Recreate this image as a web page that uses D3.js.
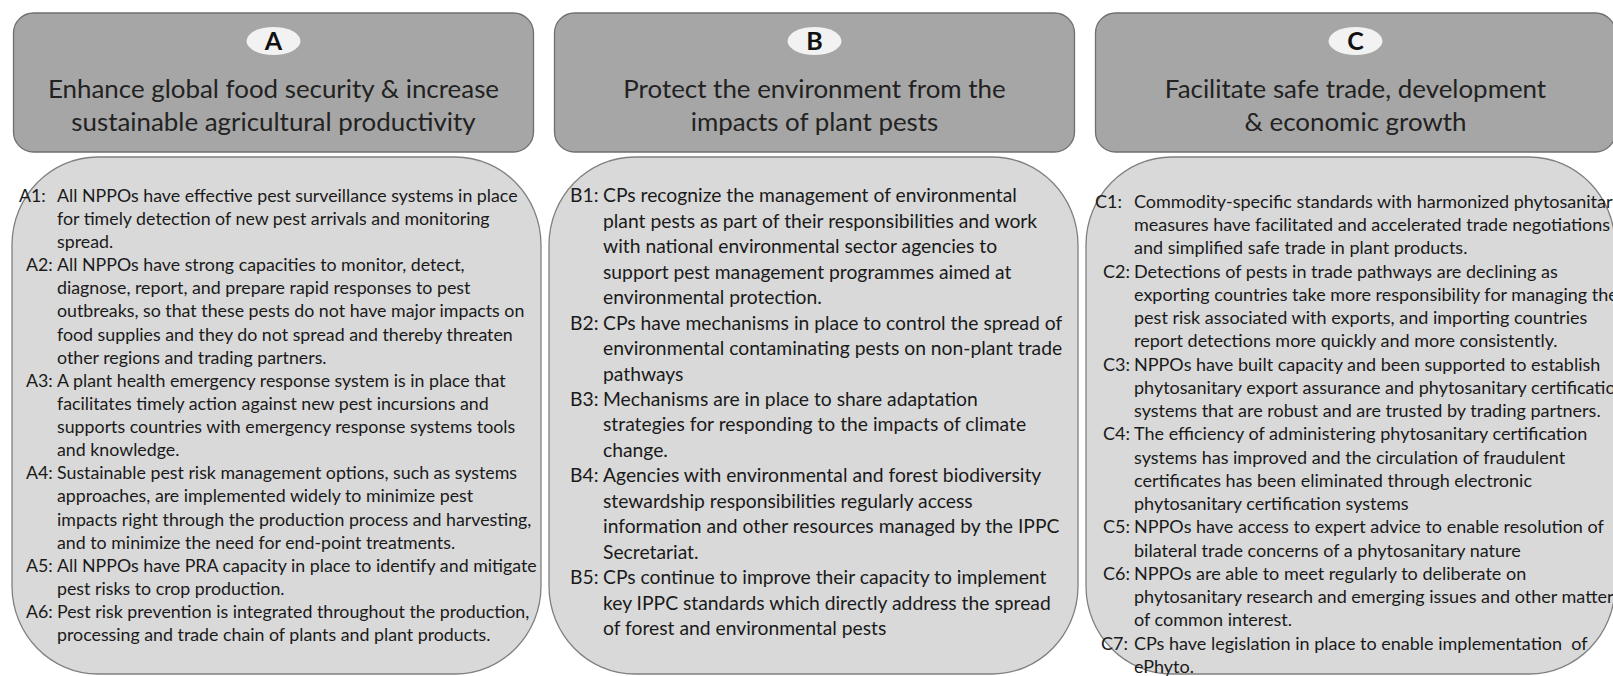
<!DOCTYPE html>
<html>
<head>
<meta charset="utf-8">
<script src="https://cdn.jsdelivr.net/npm/d3@7"></script>
<style>
  html, body { margin: 0; padding: 0; background: #fff; overflow: hidden; }
  svg { display: block; }
</style>
</head>
<body>
<svg id="chart" width="1613" height="676"></svg>
<script>

//============================================================
// Data
//------------------------------------------------------------

var panelKeys = ['A', 'B', 'C'];

var panelTitles = [
  ['Enhance global food security & increase', 'sustainable agricultural productivity'],
  ['Protect the environment from the', 'impacts of plant pests'],
  ['Facilitate safe trade, development', '& economic growth']
];

var outcomesA = [
  {code: 'A1', lines: ['All NPPOs have effective pest surveillance systems in place',
                       'for timely detection of new pest arrivals and monitoring',
                       'spread.']},
  {code: 'A2', lines: ['All NPPOs have strong capacities to monitor, detect,',
                       'diagnose, report, and prepare rapid responses to pest',
                       'outbreaks, so that these pests do not have major impacts on',
                       'food supplies and they do not spread and thereby threaten',
                       'other regions and trading partners.']},
  {code: 'A3', lines: ['A plant health emergency response system is in place that',
                       'facilitates timely action against new pest incursions and',
                       'supports countries with emergency response systems tools',
                       'and knowledge.']},
  {code: 'A4', lines: ['Sustainable pest risk management options, such as systems',
                       'approaches, are implemented widely to minimize pest',
                       'impacts right through the production process and harvesting,',
                       'and to minimize the need for end-point treatments.']},
  {code: 'A5', lines: ['All NPPOs have PRA capacity in place to identify and mitigate',
                       'pest risks to crop production.']},
  {code: 'A6', lines: ['Pest risk prevention is integrated throughout the production,',
                       'processing and trade chain of plants and plant products.']}
];

var outcomesB = [
  {code: 'B1', lines: ['CPs recognize the management of environmental',
                       'plant pests as part of their responsibilities and work',
                       'with national environmental sector agencies to',
                       'support pest management programmes aimed at',
                       'environmental protection.']},
  {code: 'B2', lines: ['CPs have mechanisms in place to control the spread of',
                       'environmental contaminating pests on non-plant trade',
                       'pathways']},
  {code: 'B3', lines: ['Mechanisms are in place to share adaptation',
                       'strategies for responding to the impacts of climate',
                       'change.']},
  {code: 'B4', lines: ['Agencies with environmental and forest biodiversity',
                       'stewardship responsibilities regularly access',
                       'information and other resources managed by the IPPC',
                       'Secretariat.']},
  {code: 'B5', lines: ['CPs continue to improve their capacity to implement',
                       'key IPPC standards which directly address the spread',
                       'of forest and environmental pests']}
];

var outcomesC = [
  {code: 'C1', lines: ['Commodity-specific standards with harmonized phytosanitary',
                       'measures have facilitated and accelerated trade negotiations',
                       'and simplified safe trade in plant products.']},
  {code: 'C2', lines: ['Detections of pests in trade pathways are declining as',
                       'exporting countries take more responsibility for managing the',
                       'pest risk associated with exports, and importing countries',
                       'report detections more quickly and more consistently.']},
  {code: 'C3', lines: ['NPPOs have built capacity and been supported to establish',
                       'phytosanitary export assurance and phytosanitary certification',
                       'systems that are robust and are trusted by trading partners.']},
  {code: 'C4', lines: ['The efficiency of administering phytosanitary certification',
                       'systems has improved and the circulation of fraudulent',
                       'certificates has been eliminated through electronic',
                       'phytosanitary certification systems']},
  {code: 'C5', lines: ['NPPOs have access to expert advice to enable resolution of',
                       'bilateral trade concerns of a phytosanitary nature']},
  {code: 'C6', lines: ['NPPOs are able to meet regularly to deliberate on',
                       'phytosanitary research and emerging issues and other matters',
                       'of common interest.']},
  {code: 'C7', lines: ['CPs have legislation in place to enable implementation  of',
                       'ePhyto.']}
];

var panelOutcomes = [outcomesA, outcomesB, outcomesC];

//============================================================
// Layout
//------------------------------------------------------------

var width = 1613
  , height = 676
  , font = 'Lato, "Open Sans", sans-serif'
  , header = {top: 13, bottom: 152, rx: 20}
  , body = {top: 157, bottom: 674, rx: 86, ry: 88}
  , titleRows = [88.5, 122]
  , badgeY = 41
  , textInset = {A: 14, B: 21, C: 17}
  , labelShift = {A1: -7, C1: -8, C7: -2}
  , hangIndent = {A: 31, B: 33, C: 31}
  , fontSize = {A: 17.8, B: 19.3, C: 18}
  , firstLine = {A: 195.5, B: 195.5, C: 201.6}
  , lastLine = {A: 635, B: 628.5, C: 666.6}
  ;

var svg = d3.select('#chart');

var xHead = d3.scaleBand()
    .domain(panelKeys)
    .range([13.5, 13.5 + 541 * 3 - 21])
    .paddingInner(21 / 541)
    .paddingOuter(0);

var xBody = d3.scaleBand()
    .domain(panelKeys)
    .range([12, 12 + 537 * 3 - 8])
    .paddingInner(8 / 537)
    .paddingOuter(0);

// rounded rect with separate horizontal / vertical corner radii
function roundRect(x0, y0, w, h, rx, ry) {
  var p = d3.path(), x1 = x0 + w, y1 = y0 + h, k = 0.5523;
  p.moveTo(x0 + rx, y0);
  p.lineTo(x1 - rx, y0);
  p.bezierCurveTo(x1 - rx + rx * k, y0, x1, y0 + ry - ry * k, x1, y0 + ry);
  p.lineTo(x1, y1 - ry);
  p.bezierCurveTo(x1, y1 - ry + ry * k, x1 - rx + rx * k, y1, x1 - rx, y1);
  p.lineTo(x0 + rx, y1);
  p.bezierCurveTo(x0 + rx - rx * k, y1, x0, y1 - ry + ry * k, x0, y1 - ry);
  p.lineTo(x0, y0 + ry);
  p.bezierCurveTo(x0, y0 + ry - ry * k, x0 + rx - rx * k, y0, x0 + rx, y0);
  p.closePath();
  return p.toString();
}

var panels = svg.selectAll('g.panel')
    .data(panelKeys.map(function(k, i) {
      return {key: k, title: panelTitles[i], outcomes: panelOutcomes[i]};
    }))
  .enter().append('g')
    .attr('class', 'panel');

//------------------------------------------------------------
// Header boxes

panels.append('rect')
    .attr('x', function(d) { return xHead(d.key) })
    .attr('y', header.top)
    .attr('width', xHead.bandwidth())
    .attr('height', header.bottom - header.top)
    .attr('rx', header.rx)
    .style('fill', '#a6a6a6')
    .style('stroke', '#6f6f6f')
    .style('stroke-width', 1.3);

panels.append('ellipse')
    .attr('cx', function(d) { return xHead(d.key) + xHead.bandwidth() / 2 })
    .attr('cy', badgeY)
    .attr('rx', 27)
    .attr('ry', 14)
    .style('fill', '#f2f2f2');

panels.append('text')
    .attr('x', function(d) { return xHead(d.key) + xHead.bandwidth() / 2 })
    .attr('y', badgeY)
    .attr('dy', '0.36em')
    .attr('text-anchor', 'middle')
    .style('font-family', font)
    .style('font-weight', 700)
    .style('font-size', '25px')
    .style('fill', '#111')
    .text(function(d) { return d.key });

panels.each(function(d) {
  d3.select(this).selectAll('text.title')
      .data(d.title)
    .enter().append('text')
      .attr('class', 'title')
      .attr('x', xHead(d.key) + xHead.bandwidth() / 2)
      .attr('y', function(t, i) { return titleRows[i] })
      .attr('dy', '0.36em')
      .attr('text-anchor', 'middle')
      .style('font-family', font)
      .style('font-size', '25.9px')
      .style('fill', '#222')
      .text(function(t) { return t });
});

//------------------------------------------------------------
// Body boxes

panels.append('path')
    .attr('d', function(d) {
      return roundRect(xBody(d.key), body.top, xBody.bandwidth(), body.bottom - body.top, body.rx, body.ry);
    })
    .style('fill', '#d9d9d9')
    .style('stroke', '#808080')
    .style('stroke-width', 1.3);

panels.each(function(d) {
  var rows = [];
  d.outcomes.forEach(function(o) {
    o.lines.forEach(function(line, j) {
      rows.push({code: j === 0 ? o.code : null, text: line});
    });
  });

  var y = d3.scaleLinear()
      .domain([0, rows.length - 1])
      .range([firstLine[d.key], lastLine[d.key]]);

  var x0 = xBody(d.key) + textInset[d.key]
    , size = fontSize[d.key] + 'px';

  var g = d3.select(this).append('g').attr('class', 'outcomes');

  g.selectAll('text.code')
      .data(rows.map(function(r, i) { return {r: r, i: i} }).filter(function(e) { return e.r.code }))
    .enter().append('text')
      .attr('class', 'code')
      .attr('x', function(e) { return x0 + (labelShift[e.r.code] || 0) })
      .attr('y', function(e) { return y(e.i) })
      .attr('dy', '0.35em')
      .style('font-family', font)
      .style('font-size', size)
      .style('fill', '#1a1a1a')
      .text(function(e) { return e.r.code + ':' });

  g.selectAll('text.line')
      .data(rows)
    .enter().append('text')
      .attr('class', 'line')
      .attr('x', x0 + hangIndent[d.key])
      .attr('y', function(r, i) { return y(i) })
      .attr('dy', '0.35em')
      .style('font-family', font)
      .style('font-size', size)
      .style('white-space', 'pre')
      .style('fill', '#1a1a1a')
      .text(function(r) { return r.text });
});

</script>
</body>
</html>
